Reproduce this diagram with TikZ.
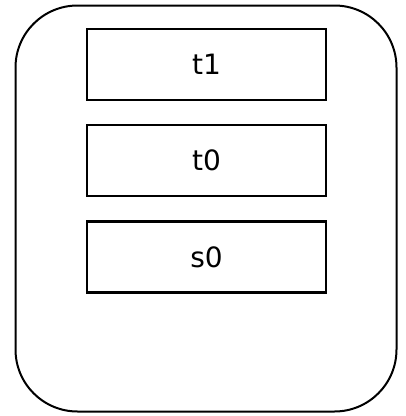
\documentclass[tikz,border=0pt]{standalone}
\usepackage{fontspec}
\setmainfont{DejaVu Sans}
\begin{document}
\begin{tikzpicture}[x=1pt,y=-1pt,
  box/.style={draw, line width=2.4pt, minimum width=239pt, minimum height=71pt, inner sep=0pt, font=\fontsize{28}{32}\selectfont},
  frame/.style={draw, line width=2pt, rounded corners=62pt}]
\useasboundingbox (0,0) rectangle (406,416);
\draw[frame] (15.5,5.5) rectangle (396.5,411.5);
\node[box] (t1) at (206.5,64.5) {t1};
\node[box] (t0) at (206.5,160.5) {t0};
\node[box] (s0) at (206.5,257) {s0};
\end{tikzpicture}
\end{document}
